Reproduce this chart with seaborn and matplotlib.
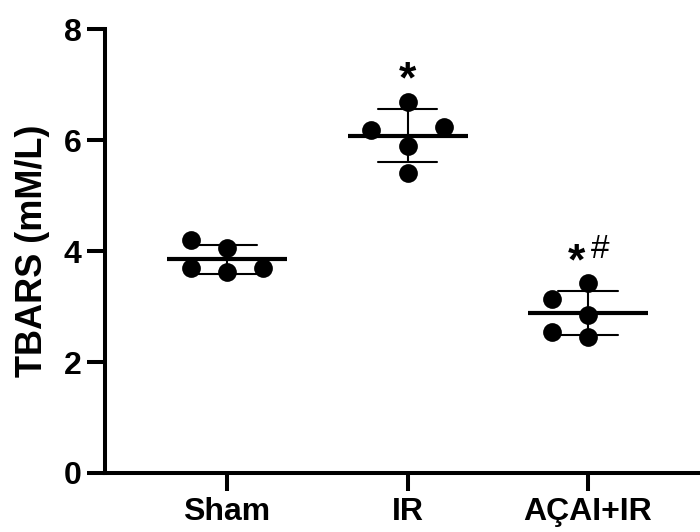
import matplotlib
matplotlib.use("Agg")
import matplotlib.pyplot as plt
import numpy as np
import pandas as pd
import seaborn as sns

# Data
groups = ["Sham", "IR", "AÇAI+IR"]
sham_vals = [3.63, 3.69, 3.69, 4.05, 4.20]
ir_vals = [5.41, 5.90, 6.18, 6.24, 6.69]
acai_vals = [2.46, 2.55, 2.85, 3.13, 3.43]
yticks = [0, 2, 4, 6, 8]
star_groups = ["IR", "AÇAI+IR"]   # * vs Sham
hash_groups = ["AÇAI+IR"]         # # vs IR

df = pd.DataFrame({
    "group": np.repeat(groups, [len(sham_vals), len(ir_vals), len(acai_vals)]),
    "tbars": sham_vals + ir_vals + acai_vals,
})

sns.set_style("ticks", rc={"text.color": "black", "axes.labelcolor": "black",
                           "xtick.color": "black", "ytick.color": "black",
                           "axes.edgecolor": "black"})
plt.rcParams["font.family"] = ["Liberation Sans", "DejaVu Sans"]

fig = plt.figure(figsize=(7, 5.32), dpi=100)
ax = fig.add_axes([0.15, 0.111, 0.85, 0.834])

# individual animals
sns.swarmplot(data=df, x="group", y="tbars", order=groups, color="black",
              size=13.5, ax=ax)

# mean +/- SD
sns.pointplot(data=df, x="group", y="tbars", order=groups, errorbar="sd",
              capsize=0.33, color="black", linestyle="none", marker="_",
              markersize=86, markeredgewidth=3, err_kws={"linewidth": 1.5},
              ax=ax)

ax.set_xlim(-0.676, 2.62)
ax.set_ylim(0, 8)
ax.set_yticks(yticks)

# Prism-style layout: keep the swarm's side for each dot, fixed column spacing
fig.canvas.draw()
for coll in ax.collections:
    if "draw" in coll.__dict__:
        off = np.array(coll.get_offsets())
        del coll.draw
        c = np.round(off[:, 0])
        side = np.sign(np.round(off[:, 0] - c, 3))
        off[:, 0] = c + side * 0.2
        coll.set_offsets(off)

stats = df.groupby("group")["tbars"].agg(["mean", "std"])
for g in star_groups:
    i = groups.index(g)
    top = stats.loc[g, "mean"] + stats.loc[g, "std"]
    dx = -8.6 if g in hash_groups else 0
    ax.annotate("*", xy=(i, top + 0.3), xytext=(dx, 0), textcoords="offset points",
                ha="center", va="baseline", fontsize=32, fontweight="bold")
for g in hash_groups:
    i = groups.index(g)
    top = stats.loc[g, "mean"] + stats.loc[g, "std"]
    ax.annotate("#", xy=(i, top + 0.58), xytext=(9, 0), textcoords="offset points",
                ha="center", va="baseline", fontsize=24)

ax.spines[["top", "right"]].set_visible(False)
for s in ["left", "bottom"]:
    ax.spines[s].set_linewidth(2.9)
ax.tick_params(axis="both", length=13, width=2.9, labelsize=23, pad=4, color="black")
for lbl in ax.get_xticklabels() + ax.get_yticklabels():
    lbl.set_fontweight("bold")
ax.set_xlabel("")
ax.set_ylabel("TBARS (mM/L)", fontsize=26, fontweight="bold", labelpad=10)

fig.savefig("out.png", dpi=100)
